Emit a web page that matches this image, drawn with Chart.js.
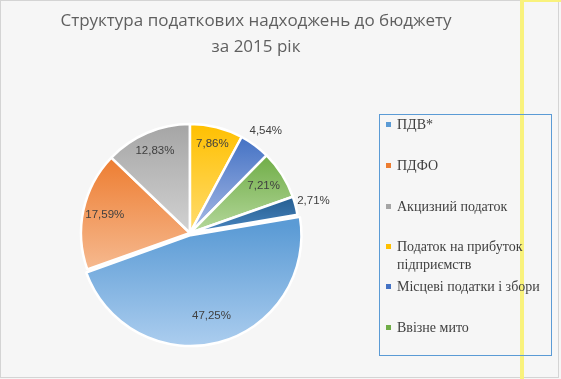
<!DOCTYPE html>
<html>
<head>
<meta charset="utf-8">
<script src="https://cdn.jsdelivr.net/npm/chart.js@4.4.0/dist/chart.umd.min.js"></script>
<style>
html,body{margin:0;padding:0;background:#f6f6f6;}
#wrap{position:relative;width:561px;height:379px;}
canvas{display:block;}
</style>
</head>
<body>
<div id="wrap"><canvas id="c" width="561" height="379"></canvas></div>
<script>
const titleLines = ["Структура податкових надходжень до бюджету", "за 2015 рік"];
const categories = ["ПДВ*", "ПДФО", "Акцизний податок", ["Податок на прибуток", "підприємств"], "Місцеві податки і збори", "Ввізне мито", "Інші"];
const shares = [47.25, 17.59, 12.83, 7.86, 4.54, 7.21, 2.71];
const legendCount = 6;

const topColors = ["#5b9bd5", "#ed7d31", "#a5a5a5", "#ffc000", "#4472c4", "#70ad47", "#255e91"];
const bottomColors = ["#b0d0f0", "#f6b98f", "#d2d2d2", "#ffdc70", "#a9bbe6", "#b5d89c", "#4a86c0"];
const offsets = [9, 0, 0, 0, 0, 0, 0];
const labelRad = [0.70, 0.80, 0.82, 0.84, 1.17, 0.80, 1.17];
const RADIUS = 109;
const ROT = shares.slice(3).reduce((a, b) => a + b, 0) / 100 * 360; // start so that yellow begins at top

function sliceGradient(ctx) {
  const chart = ctx.chart;
  const i = ctx.dataIndex;
  const ca = chart.chartArea;
  if (!ca) return topColors[i];
  const cx = (ca.left + ca.right) / 2, cy = (ca.top + ca.bottom) / 2;
  const total = shares.reduce((a, b) => a + b, 0);
  let cum = 0;
  for (let k = 0; k < i; k++) cum += shares[k];
  const a0 = -Math.PI / 2 + ROT * Math.PI / 180 + cum / total * 2 * Math.PI;
  const a1 = a0 + shares[i] / total * 2 * Math.PI;
  const mid = (a0 + a1) / 2;
  const oy = Math.sin(mid) * offsets[i];
  let ys = [cy, cy + RADIUS * Math.sin(a0), cy + RADIUS * Math.sin(a1)];
  for (let k = -4; k <= 8; k++) {
    const a = k * Math.PI / 2;
    if (a > a0 && a < a1) ys.push(cy + RADIUS * Math.sin(a));
  }
  const y0 = Math.min(...ys) + oy, y1 = Math.max(...ys) + oy;
  const g = chart.ctx.createLinearGradient(0, y0, 0, y1);
  g.addColorStop(0, topColors[i]);
  g.addColorStop(1, bottomColors[i]);
  return g;
}

const framePlugin = {
  id: 'frame',
  beforeDraw(chart) {
    const c = chart.ctx;
    c.save();
    c.fillStyle = '#f6f6f6';
    c.fillRect(0, 0, chart.width, chart.height);
    c.strokeStyle = '#d4d4d4';
    c.lineWidth = 1;
    c.strokeRect(0.5, 0.5, 558, 377);
    c.fillStyle = '#f9f27c';
    c.fillRect(520, 0, 4, 379);
    c.fillRect(520, 0, 41, 2);
    // title
    c.fillStyle = '#5f5f5f';
    c.font = '17px "Open Sans", "Noto Sans", sans-serif';
    c.textAlign = 'center';
    c.textBaseline = 'middle';
    c.fillText(titleLines[0], 256, 21);
    c.fillText(titleLines[1], 256, 47);
    c.restore();
  },
  afterDraw(chart) {
    const c = chart.ctx;
    c.save();
    // legend box
    const bx = 379.5, by = 114.5, bw = 172, bh = 241;
    c.strokeStyle = '#5b9bd5';
    c.lineWidth = 1;
    c.strokeRect(bx, by, bw, bh);
    c.beginPath();
    c.rect(bx, by, bw - 1, bh);
    c.clip();
    const rowY = [125, 166, 207, 247, 287, 328];
    c.font = '14px "Liberation Serif", serif';
    c.textBaseline = 'middle';
    c.textAlign = 'left';
    for (let i = 0; i < legendCount; i++) {
      c.fillStyle = topColors[i];
      c.fillRect(386, rowY[i] - 3, 5, 5);
      c.fillStyle = '#3f3f3f';
      const lab = Array.isArray(categories[i]) ? categories[i] : [categories[i]];
      lab.forEach((t, j) => c.fillText(t, 397, rowY[i] + j * 18));
    }
    c.restore();
    // data labels
    c.save();
    const meta = chart.getDatasetMeta(0);
    c.font = '11.5px "Liberation Sans", sans-serif';
    c.fillStyle = '#404040';
    c.textAlign = 'center';
    c.textBaseline = 'middle';
    meta.data.forEach((arc, i) => {
      const mid = (arc.startAngle + arc.endAngle) / 2;
      const d = arc.outerRadius * labelRad[i] + offsets[i];
      const x = arc.x + Math.cos(mid) * d, y = arc.y + Math.sin(mid) * d;
      c.fillText(shares[i].toFixed(2).replace('.', ',') + '%', x, y);
    });
    c.restore();
  }
};

new Chart(document.getElementById('c'), {
  type: 'pie',
  data: {
    labels: categories,
    datasets: [{
      data: shares,
      backgroundColor: sliceGradient,
      borderColor: '#ffffff',
      borderWidth: 2.5,
      offset: offsets,
      hoverOffset: 0
    }]
  },
  options: {
    responsive: false,
    animation: false,
    rotation: ROT,
    radius: RADIUS,
    layout: { padding: { left: 0, right: 181, top: 100, bottom: 13 } },
    plugins: {
      legend: { display: false },
      title: { display: false },
      tooltip: { enabled: false }
    }
  },
  plugins: [framePlugin]
});
</script>
</body>
</html>
